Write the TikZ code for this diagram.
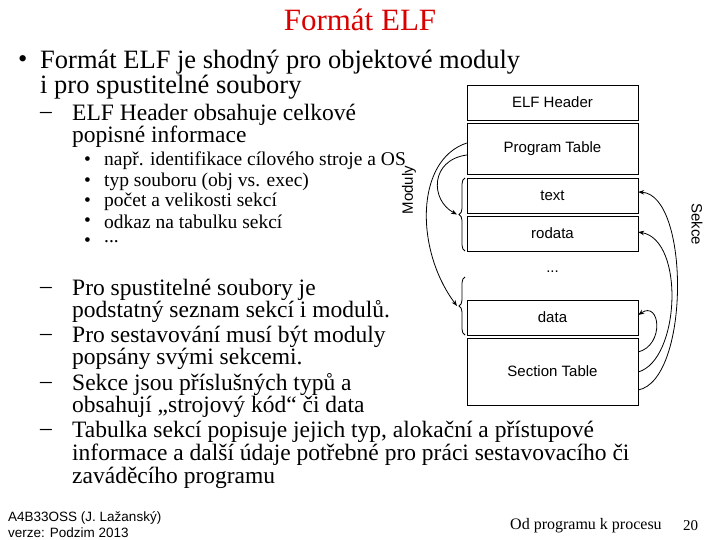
\documentclass[tikz,border=0pt]{standalone}
\usepackage{fontspec}
\setmainfont{Liberation Serif}
\setsansfont{Liberation Sans}
\usetikzlibrary{decorations.pathreplacing,arrows.meta}
\begin{document}
\begin{tikzpicture}[x=1pt,y=-1pt,
 L1/.style={anchor=west,inner sep=0,font=\fontsize{26.5}{28}\selectfont},
 L2/.style={anchor=west,inner sep=0,font=\fontsize{23.5}{25}\selectfont},
 L3/.style={anchor=west,inner sep=0,font=\fontsize{19.5}{20}\selectfont},
 box/.style={draw,minimum width=171pt,inner sep=0,font=\sffamily\fontsize{15}{16}\selectfont},
 arr/.style={-{Stealth[length=6pt]},thick}]
\useasboundingbox (0,0) rectangle (720,540);
\node[inner sep=0,text=red!85!black,font=\fontsize{31}{33}\selectfont] (title) at (360,20) {Formát ELF};
\node[L1] (b1) at (18,62) {•};
\node[L1] (t1) at (40,62) {Formát ELF je shodný pro objektové moduly};
\node[L1] (t1b) at (40,87) {i pro spustitelné soubory};
\node[L2] (d1) at (40,115) {–};
\node[L2] (t2) at (72,115) {ELF Header obsahuje celkové};
\node[L2] (t2b) at (72,137) {popisné informace};
\node[L3] (bb1) at (84,161) {•}; \node[L3] (s1) at (104,161) {např. identifikace cílového stroje a OS};
\node[L3] (bb2) at (84,182) {•}; \node[L3] (s2) at (104,182) {typ souboru (obj vs. exec)};
\node[L3] (bb3) at (84,202) {•}; \node[L3] (s3) at (104,202) {počet a velikosti sekcí};
\node[L3] (bb4) at (84,222) {•}; \node[L3] (s4) at (104,222) {odkaz na tabulku sekcí};
\node[L3] (bb5) at (84,242) {•}; \node[L3] (s5) at (104,242) {...};
\node[L2] (e1) at (40,290) {–}; \node[L2] (p1) at (72,290) {Pro spustitelné soubory je};
\node[L2] (e2) at (40,337) {–}; \node[L2] (p2) at (72,337) {Pro sestavování musí být moduly};
\node[L2] (e3) at (40,385) {–}; \node[L2] (p3) at (72,385) {Sekce jsou příslušných typů a};
\node[L2] (e4) at (40,432) {–}; \node[L2] (p4) at (72,432) {Tabulka sekcí popisuje jejich typ, alokační a přístupové};
\node[L2] (q1) at (72,312) {podstatný seznam sekcí i modulů.};
\node[L2] (q2) at (72,359) {popsány svými sekcemi.};
\node[L2] (q3) at (72,407) {obsahují „strojový kód“ či data};
\node[L2] (q4) at (72,455) {informace a další údaje potřebné pro práci sestavovacího či};
\node[L2] (q5) at (72,478) {zaváděcího programu};
% boxes
\node[box,minimum height=35pt] (eh) at (552.5,102.5) {ELF Header};
\node[box,minimum height=51pt] (pt) at (552.5,148.5) {Program Table};
\node[box,minimum height=35pt] (tx) at (552.5,195.5) {text};
\node[box,minimum height=35pt] (ro) at (552.5,233.5) {rodata};
\node[inner sep=0,font=\sffamily\fontsize{15}{16}\selectfont] (dots) at (552.5,272) {...};
\node[box,minimum height=35pt] (da) at (552.5,317.5) {data};
\node[box,minimum height=67pt] (st) at (552.5,371.5) {Section Table};
\draw[thick,decorate,decoration={brace,amplitude=6pt}] (465,251) -- coordinate[pos=0.5,xshift=-8pt] (br1) (465,178);
\draw[thick,decorate,decoration={brace,amplitude=6pt}] (465,335) -- coordinate[pos=0.5,xshift=-8pt] (br2) (465,277);
\node[rotate=90,inner sep=0,font=\sffamily\fontsize{15}{16}\selectfont] (mod) at (409,190) {Moduly};
\node[rotate=-90,inner sep=0,font=\sffamily\fontsize{15}{16}\selectfont] (sek) at (697,224) {Sekce};
\draw[arr] (pt.west|-0,143) .. controls (415,160) and (415,250) .. (br2);
\draw[arr] (pt.west|-0,155) .. controls (430,160) and (430,200) .. (br1);
\draw[arr] (st.east|-0,352) .. controls (665,345) and (660,300) .. (da.east|-0,315);
\draw[arr] (st.east|-0,372) .. controls (680,360) and (685,240) .. (ro.east|-0,232);
\draw[arr] (st.east|-0,390) .. controls (690,380) and (690,195) .. (tx.east|-0,192);
% footer
\node[anchor=west,inner sep=0,font=\sffamily\fontsize{13.5}{14}\selectfont] (f1) at (8,518) {A4B33OSS (J. Lažanský)};
\node[anchor=west,inner sep=0,font=\sffamily\fontsize{13.5}{14}\selectfont] (f2) at (8,533) {verze: Podzim 2013};
\node[anchor=west,inner sep=0,font=\fontsize{16}{16}\selectfont] (f3) at (510,526) {Od programu k procesu};
\node[anchor=west,inner sep=0,font=\fontsize{15}{16}\selectfont] (f4) at (683,526) {20};
\end{tikzpicture}
\end{document}
